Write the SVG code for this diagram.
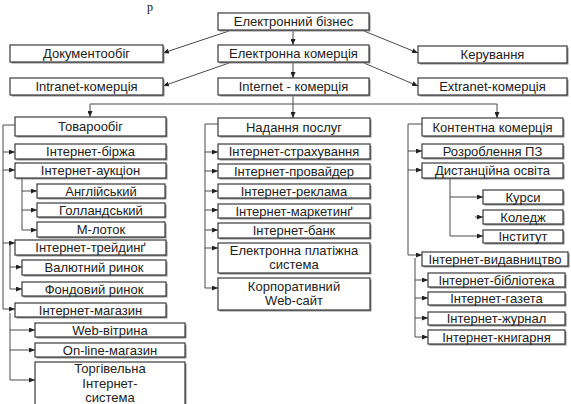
<svg xmlns="http://www.w3.org/2000/svg" width="571" height="404" viewBox="0 0 571 404">
<style>
.b{fill:#fff;stroke:#3a3a3a;stroke-width:1.2}
.sh{fill:#8c8c8c}
.t{font-family:"Liberation Sans",Arial,sans-serif;font-size:13px;fill:#222;text-anchor:middle}
.c{fill:none;stroke:#4a4a4a;stroke-width:1}
.a{marker-end:url(#ah)}
</style>
<defs>
<marker id="ah" markerWidth="6" markerHeight="5" refX="6" refY="2.5" orient="auto" markerUnits="userSpaceOnUse"><path d="M0,0 L6,2.5 L0,5 z" fill="#222"/></marker>
</defs>
<rect width="571" height="404" fill="#fff"/>
<text x="147" y="11" font-family="Liberation Serif,serif" font-size="12" fill="#111">р</text>

<g id="connectors">
<line class="c a" x1="293" y1="30" x2="293" y2="45"/>
<line class="c a" x1="293" y1="62" x2="293" y2="78"/>
<line class="c a" x1="229" y1="31" x2="163" y2="53"/>
<line class="c a" x1="364" y1="31" x2="418" y2="53"/>
<line class="c a" x1="229" y1="63" x2="163" y2="86"/>
<line class="c a" x1="364" y1="63" x2="418" y2="86"/>
<line class="c a" x1="293" y1="95" x2="293" y2="118"/>
<line class="c" x1="90" y1="104" x2="497" y2="104"/>
<line class="c a" x1="90" y1="104" x2="90" y2="117"/>
<line class="c a" x1="497" y1="104" x2="497" y2="118"/>
<path class="c a" d="M15,125 H3 V309 H15"/>
<line class="c a" x1="3" y1="152" x2="15" y2="152"/>
<line class="c a" x1="3" y1="170" x2="15" y2="170"/>
<line class="c a" x1="3" y1="243" x2="15" y2="243"/>
<path class="c a" d="M22,178 V230 H37"/>
<line class="c a" x1="22" y1="191" x2="37" y2="191"/>
<line class="c a" x1="22" y1="210" x2="37" y2="210"/>
<path class="c a" d="M10,245 V289 H22"/>
<line class="c a" x1="10" y1="267" x2="22" y2="267"/>
<path class="c a" d="M10,313 V380 H35"/>
<line class="c a" x1="10" y1="330" x2="35" y2="330"/>
<line class="c a" x1="10" y1="350" x2="35" y2="350"/>
<path class="c a" d="M218,124 H205 V288 H218"/>
<line class="c a" x1="205" y1="152" x2="218" y2="152"/>
<line class="c a" x1="205" y1="171" x2="218" y2="171"/>
<line class="c a" x1="205" y1="191" x2="218" y2="191"/>
<line class="c a" x1="205" y1="210" x2="218" y2="210"/>
<line class="c a" x1="205" y1="230" x2="218" y2="230"/>
<line class="c a" x1="205" y1="248" x2="218" y2="248"/>
<path class="c a" d="M422,124 H408 V255 H422"/>
<line class="c a" x1="408" y1="151" x2="422" y2="151"/>
<line class="c a" x1="408" y1="170" x2="422" y2="170"/>
<path class="c a" d="M450,178 V236 H483"/>
<line class="c a" x1="450" y1="197" x2="483" y2="197"/>
<line class="c a" x1="475" y1="217" x2="483" y2="217"/>
<path class="c a" d="M415,258 V337 H428"/>
<line class="c a" x1="415" y1="280" x2="428" y2="280"/>
<line class="c a" x1="415" y1="298" x2="428" y2="298"/>
<line class="c a" x1="415" y1="318" x2="428" y2="318"/>
</g>

<g id="n1"><rect class="sh" x="219.5" y="14.5" width="151" height="17"/><rect class="b" x="218" y="13" width="151" height="17"/><text class="t" x="293.5" y="26">Електронний бізнес</text></g>
<g id="n2"><rect class="sh" x="11.5" y="46.5" width="153" height="17"/><rect class="b" x="10" y="45" width="153" height="17"/><text class="t" x="86.5" y="58">Документообіг</text></g>
<g id="n3"><rect class="sh" x="219.5" y="46.5" width="151" height="17"/><rect class="b" x="218" y="45" width="151" height="17"/><text class="t" x="293.5" y="58">Електронна комерція</text></g>
<g id="n4"><rect class="sh" x="419.5" y="47.5" width="149" height="17"/><rect class="b" x="418" y="46" width="149" height="17"/><text class="t" x="492.5" y="59">Керування</text></g>
<g id="n5"><rect class="sh" x="11.5" y="79.5" width="153" height="17"/><rect class="b" x="10" y="78" width="153" height="17"/><text class="t" x="86.5" y="91">Intranet-комерція</text></g>
<g id="n6"><rect class="sh" x="219.5" y="79.5" width="151" height="17"/><rect class="b" x="218" y="78" width="151" height="17"/><text class="t" x="293.5" y="91">Internet - комерція</text></g>
<g id="n7"><rect class="sh" x="419.5" y="79.5" width="149" height="17"/><rect class="b" x="418" y="78" width="149" height="17"/><text class="t" x="492.5" y="91">Extranet-комерція</text></g>

<g id="c1"><rect class="sh" x="16.5" y="118.5" width="151" height="19"/><rect class="b" x="15" y="117" width="151" height="19"/><text class="t" x="90.5" y="131">Товарообіг</text></g>
<g id="c1a"><rect class="sh" x="16.5" y="145.5" width="151" height="15"/><rect class="b" x="15" y="144" width="151" height="15"/><text class="t" x="90.5" y="156">Інтернет-біржа</text></g>
<g id="c1b"><rect class="sh" x="16.5" y="164.5" width="151" height="15"/><rect class="b" x="15" y="163" width="151" height="15"/><text class="t" x="90.5" y="175">Інтернет-аукціон</text></g>
<g id="c1b1"><rect class="sh" x="38.5" y="185.5" width="128" height="14"/><rect class="b" x="37" y="184" width="128" height="14"/><text class="t" x="101" y="195.5">Англійський</text></g>
<g id="c1b2"><rect class="sh" x="38.5" y="204.5" width="128" height="14"/><rect class="b" x="37" y="203" width="128" height="14"/><text class="t" x="101" y="214.5">Голландський</text></g>
<g id="c1b3"><rect class="sh" x="38.5" y="223.5" width="128" height="15"/><rect class="b" x="37" y="222" width="128" height="15"/><text class="t" x="101" y="234">М-лоток</text></g>
<g id="c1c"><rect class="sh" x="16.5" y="241.5" width="151" height="15"/><rect class="b" x="15" y="240" width="151" height="15"/><text class="t" x="90.5" y="252">Інтернет-трейдинґ</text></g>
<g id="c1c1"><rect class="sh" x="23.5" y="261.5" width="144" height="15"/><rect class="b" x="22" y="260" width="144" height="15"/><text class="t" x="94" y="272">Валютний ринок</text></g>
<g id="c1c2"><rect class="sh" x="23.5" y="283.5" width="144" height="14"/><rect class="b" x="22" y="282" width="144" height="14"/><text class="t" x="94" y="293.5">Фондовий ринок</text></g>
<g id="c1d"><rect class="sh" x="16.5" y="304.5" width="151" height="14"/><rect class="b" x="15" y="303" width="151" height="14"/><text class="t" x="90.5" y="314.5">Інтернет-магазин</text></g>
<g id="c1d1"><rect class="sh" x="36.5" y="324.5" width="150" height="14"/><rect class="b" x="35" y="323" width="150" height="14"/><text class="t" x="110" y="334.5">Web-вітрина</text></g>
<g id="c1d2"><rect class="sh" x="36.5" y="344.5" width="150" height="14"/><rect class="b" x="35" y="343" width="150" height="14"/><text class="t" x="110" y="354.5">On-line-магазин</text></g>
<g id="c1d3"><rect class="sh" x="36.5" y="363.5" width="150" height="50"/><rect class="b" x="35" y="362" width="150" height="50"/><text class="t" x="110" y="373">Торгівельна</text><text class="t" x="110" y="388">Інтернет-</text><text class="t" x="110" y="402">система</text></g>

<g id="c2"><rect class="sh" x="219.5" y="119.5" width="152" height="18"/><rect class="b" x="218" y="118" width="152" height="18"/><text class="t" x="294" y="131.5">Надання послуг</text></g>
<g id="c2a"><rect class="sh" x="219.5" y="145.5" width="152" height="15"/><rect class="b" x="218" y="144" width="152" height="15"/><text class="t" x="294" y="156">Інтернет-страхування</text></g>
<g id="c2b"><rect class="sh" x="219.5" y="165.5" width="152" height="14"/><rect class="b" x="218" y="164" width="152" height="14"/><text class="t" x="294" y="175.5">Інтернет-провайдер</text></g>
<g id="c2c"><rect class="sh" x="219.5" y="185.5" width="152" height="14"/><rect class="b" x="218" y="184" width="152" height="14"/><text class="t" x="294" y="195.5">Інтернет-реклама</text></g>
<g id="c2d"><rect class="sh" x="219.5" y="205.5" width="152" height="14"/><rect class="b" x="218" y="204" width="152" height="14"/><text class="t" x="294" y="215.5">Інтернет-маркетинґ</text></g>
<g id="c2e"><rect class="sh" x="219.5" y="224.5" width="152" height="15"/><rect class="b" x="218" y="223" width="152" height="15"/><text class="t" x="294" y="235">Інтернет-банк</text></g>
<g id="c2f"><rect class="sh" x="219.5" y="244.5" width="152" height="30"/><rect class="b" x="218" y="243" width="152" height="30"/><text class="t" x="294" y="255">Електронна платіжна</text><text class="t" x="294" y="269">система</text></g>
<g id="c2g"><rect class="sh" x="219.5" y="279.5" width="152" height="32"/><rect class="b" x="218" y="278" width="152" height="32"/><text class="t" x="294" y="291">Корпоративний</text><text class="t" x="294" y="305">Web-сайт</text></g>

<g id="c3"><rect class="sh" x="423.5" y="119.5" width="141" height="18"/><rect class="b" x="422" y="118" width="141" height="18"/><text class="t" x="492.5" y="131.5">Контентна комерція</text></g>
<g id="c3a"><rect class="sh" x="423.5" y="145.5" width="141" height="14"/><rect class="b" x="422" y="144" width="141" height="14"/><text class="t" x="492.5" y="155.5">Розроблення ПЗ</text></g>
<g id="c3b"><rect class="sh" x="423.5" y="164.5" width="141" height="15"/><rect class="b" x="422" y="163" width="141" height="15"/><text class="t" x="492.5" y="175">Дистанційна освіта</text></g>
<g id="c3b1"><rect class="sh" x="484.5" y="191.5" width="80" height="14"/><rect class="b" x="483" y="190" width="80" height="14"/><text class="t" x="523" y="201.5">Курси</text></g>
<g id="c3b2"><rect class="sh" x="484.5" y="211.5" width="80" height="14"/><rect class="b" x="483" y="210" width="80" height="14"/><text class="t" x="523" y="221.5">Коледж</text></g>
<g id="c3b3"><rect class="sh" x="484.5" y="231.5" width="80" height="13"/><rect class="b" x="483" y="230" width="80" height="13"/><text class="t" x="523" y="241">Інститут</text></g>
<g id="c3c"><rect class="sh" x="423.5" y="253.5" width="146" height="14"/><rect class="b" x="422" y="252" width="146" height="14"/><text class="t" x="495" y="263.5">Інтернет-видавництво</text></g>
<g id="c3c1"><rect class="sh" x="429.5" y="274.5" width="137" height="14"/><rect class="b" x="428" y="273" width="137" height="14"/><text class="t" x="496.5" y="284.5">Інтернет-бібліотека</text></g>
<g id="c3c2"><rect class="sh" x="429.5" y="293.5" width="137" height="13"/><rect class="b" x="428" y="292" width="137" height="13"/><text class="t" x="496.5" y="303">Інтернет-газета</text></g>
<g id="c3c3"><rect class="sh" x="429.5" y="313.5" width="137" height="13"/><rect class="b" x="428" y="312" width="137" height="13"/><text class="t" x="496.5" y="323">Інтернет-журнал</text></g>
<g id="c3c4"><rect class="sh" x="429.5" y="331.5" width="137" height="14"/><rect class="b" x="428" y="330" width="137" height="14"/><text class="t" x="496.5" y="341.5">Інтернет-книгарня</text></g>
</svg>
